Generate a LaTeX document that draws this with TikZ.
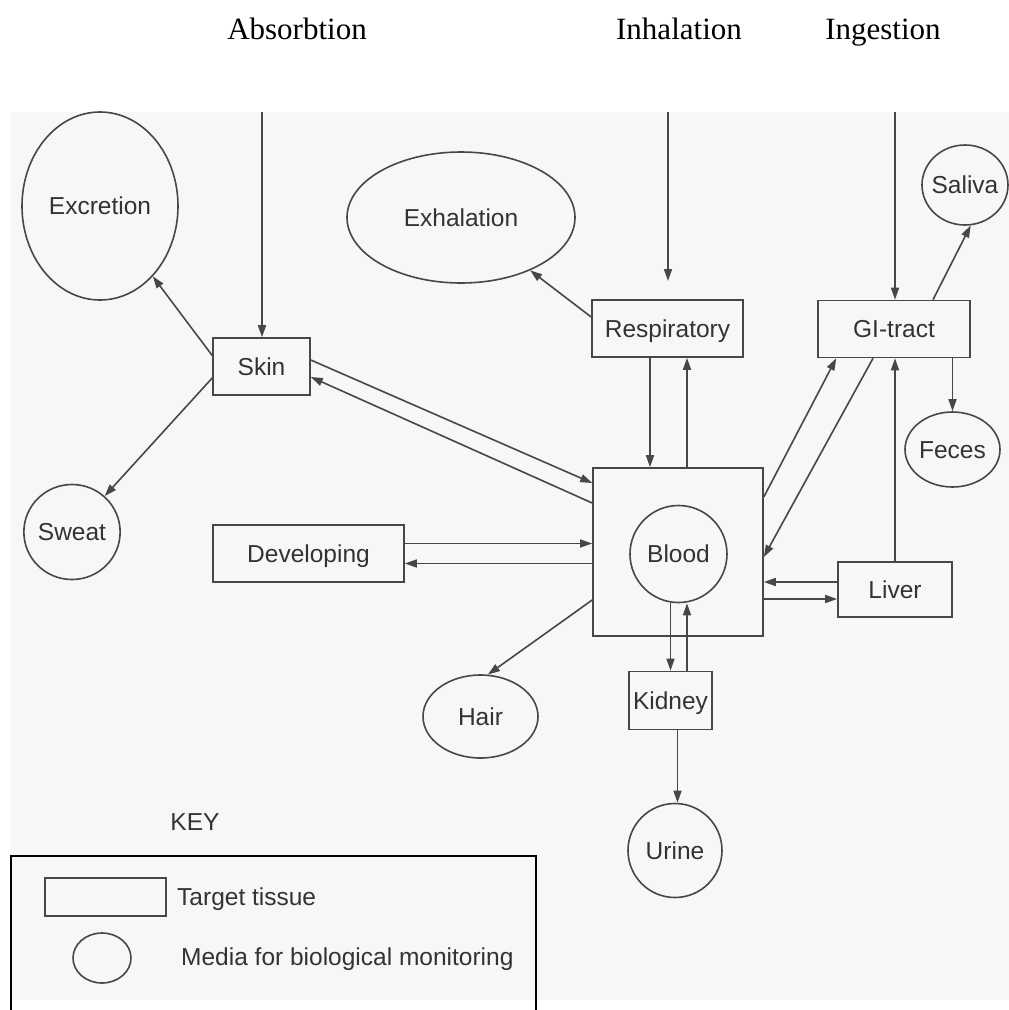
\documentclass[tikz,border=0pt]{standalone}
\usepackage{fontspec}
\setmainfont{Liberation Serif}
\setsansfont{Liberation Sans}
\usetikzlibrary{shapes.geometric,arrows.meta,calc}
\begin{document}
\begin{tikzpicture}[x=1pt,y=-1pt,
  ln/.style={draw=black!72, line width=1.6pt},
  arr/.style={ln, -{Triangle[length=12pt,width=8pt]}},
  sans/.style={font=\sffamily\fontsize{24.5}{28}\selectfont, text=black!80, text height=17pt, text depth=0pt},
  tissue/.style={ln, sans, rectangle, inner sep=0pt},
  media/.style={ln, sans, ellipse, inner sep=0pt},
  route/.style={font=\rmfamily\fontsize{31}{36}\selectfont, anchor=base, text=black},
  lbl/.style={sans, anchor=west, inner sep=0pt}
]
\useasboundingbox (0,0) rectangle (1009,1010);
\fill[gray!6] (10,112) rectangle (1009,1000);

% routes of entry
\node[route] (absorb) at (297,39) {Absorbtion};
\node[route] (inhal) at (679,39) {Inhalation};
\node[route] (ingest) at (883,39) {Ingestion};

% nodes
\node[tissue, minimum width=97pt, minimum height=57pt] (skin) at (261.5,366.5) {Skin};
\node[media, minimum width=156pt, minimum height=188pt] (excretion) at (100,206) {Excretion};
\node[media, minimum width=228pt, minimum height=131pt] (exhalation) at (461,217.5) {Exhalation};
\node[tissue, minimum width=151pt, minimum height=57pt] (resp) at (667.5,328.5) {Respiratory};
\node[tissue, minimum width=152pt, minimum height=57pt] (gi) at (894,329) {GI-tract};
\node[media, minimum width=86pt, minimum height=80pt, inner xsep=-4pt] (saliva) at (965,185) {Saliva};
\node[media, minimum width=94pt, minimum height=95pt] (sweat) at (72,532) {Sweat};
\node[tissue, minimum width=191pt, minimum height=57pt] (dev) at (308.5,553.5) {Developing};
\node[tissue, minimum width=170pt, minimum height=168pt] (bloodbox) at (678,552) {};
\node[media, minimum width=97pt, minimum height=97pt] (blood) at (678.5,554) {Blood};
\node[tissue, minimum width=114pt, minimum height=55pt] (liver) at (895,589.5) {Liver};
\node[media, minimum width=95pt, minimum height=75pt] (feces) at (952.5,449.5) {Feces};
\node[tissue, minimum width=83pt, minimum height=58pt] (kidney) at (670.5,700.5) {Kidney};
\node[media, minimum width=115pt, minimum height=83pt] (hair) at (480.5,716.5) {Hair};
\node[media, minimum width=94pt, minimum height=94pt] (urine) at (675,850.5) {Urine};

% entry arrows
\coordinate (absTop) at (262,112);
\coordinate (inhTop) at (668,112);
\coordinate (inhEnd) at (668,281);
\coordinate (ingTop) at (895,112);
\draw[arr] (absTop) -- (absTop |- skin.north);
\draw[arr] (inhTop) -- (inhEnd);
\draw[arr] (ingTop) -- (ingTop |- gi.north);

% skin
\draw[arr] ([yshift=11pt]skin.west) -- (excretion);
\draw[arr] ([yshift=-11.5pt]skin.west) -- (sweat);
\draw[arr] ([yshift=6.5pt]skin.east) -- ([yshift=69pt]bloodbox.west);
\draw[arr] ([yshift=49pt]bloodbox.west) -- ([yshift=-10.5pt]skin.east);

% developing
\draw[arr] ([yshift=10pt]dev.east) -- ([yshift=10pt]dev.east -| bloodbox.west);
\draw[arr] ([yshift=-10pt]dev.east -| bloodbox.west) -- ([yshift=-10pt]dev.east);

% respiratory
\draw[arr] ([yshift=11.5pt]resp.west) -- (exhalation);
\draw[arr] ([xshift=-17.5pt]resp.south) -- ([xshift=-17.5pt]resp.south |- bloodbox.north);
\draw[arr] ([xshift=19.5pt]resp.south |- bloodbox.north) -- ([xshift=19.5pt]resp.south);

% GI tract
\draw[arr] ([xshift=39pt]gi.north) -- (saliva.-82);
\draw[arr] (gi.south -| feces.north) -- (feces.north);
\draw[arr] ([yshift=55pt]bloodbox.east) -- ([xshift=19pt]gi.south west);
\draw[arr] ([xshift=-21pt]gi.south) -- ([yshift=-5pt]bloodbox.east);

% liver
\draw[arr] (liver.north) -- (liver.north |- gi.south);
\draw[arr] ([yshift=7.5pt]liver.west) -- ([yshift=7.5pt]liver.west -| bloodbox.east);
\draw[arr] ([yshift=-9.5pt]liver.west -| bloodbox.east) -- ([yshift=-9.5pt]liver.west);

% kidney, hair
\draw[arr] ([xshift=-8pt]blood.south) -- ([xshift=-8pt]blood.south |- kidney.north);
\draw[arr] ([xshift=16.5pt]kidney.north) -- ([xshift=16.5pt]kidney.north |- blood.south);
\draw[arr] ([xshift=7pt]kidney.south) -- ([xshift=7pt]kidney.south |- urine.north);
\draw[arr] ([yshift=-48pt]bloodbox.west) -- (hair.80);

% key
\node[sans, inner sep=0pt] (keylabel) at (195,822) {KEY};
\draw[line width=2.6pt, black] (11,1010) -- (11,856) -- (536,856) -- (536,1010);
\node[tissue, minimum width=121pt, minimum height=38pt] (keyrect) at (105.5,897) {};
\node[media, minimum width=58pt, minimum height=50pt] (keycirc) at (102,958) {};
\node[lbl] (keytissue) at (177,897) {Target tissue};
\node[lbl] (keymedia) at (181,957) {Media for biological monitoring};
\end{tikzpicture}
\end{document}
